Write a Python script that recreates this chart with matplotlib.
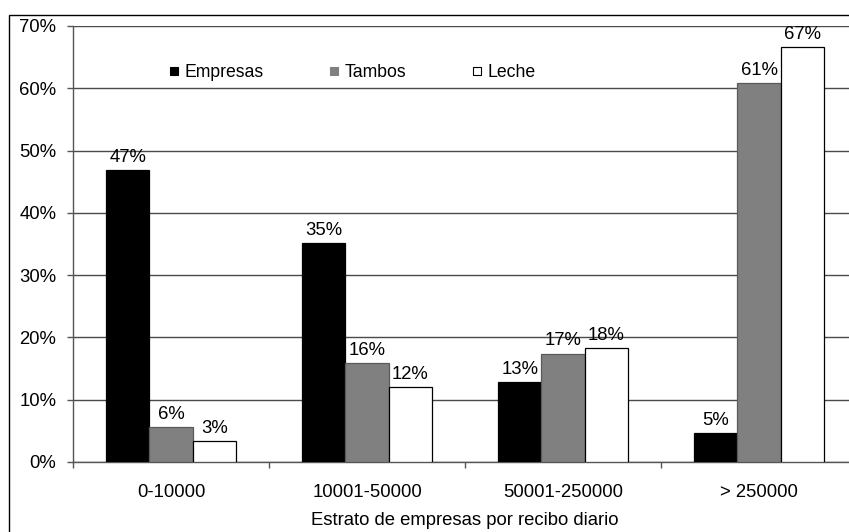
import matplotlib.pyplot as plt
import numpy as np
from matplotlib.lines import Line2D
from matplotlib.patches import Rectangle

plt.rcParams['font.family'] = ['Liberation Sans', 'DejaVu Sans']

# Share of firms, farms and milk by daily intake stratum (%)
estratos = ['0-10000', '10001-50000', '50001-250000', '> 250000']
empresas = [46.9, 35.2, 12.8, 4.7]
tambos = [5.6, 15.9, 17.4, 60.8]
leche = [3.3, 12.0, 18.3, 66.6]

series = [('Empresas', empresas, '#000000', '#000000'),
          ('Tambos', tambos, '#808080', '#5a5a5a'),
          ('Leche', leche, '#ffffff', '#000000')]

fig = plt.figure(figsize=(8.49, 5.32), dpi=100)
ax = fig.add_axes([73 / 849, 70 / 532, 784 / 849, 436 / 532])

x = np.arange(len(estratos))
width = 0.22
fs = 13.3

for i, (name, vals, color, edge) in enumerate(series):
    pos = x + (i - 1) * width
    bars = ax.bar(pos, vals, width, color=color, edgecolor=edge, linewidth=0.9, zorder=3)
    for b, v in zip(bars, vals):
        ax.annotate(f'{v:.0f}%', (b.get_x() + b.get_width() / 2, v),
                    xytext=(0, 3), textcoords='offset points',
                    ha='center', va='bottom', fontsize=fs, zorder=4)

ax.set_xlim(-0.5, 3.5)
ax.set_ylim(0, 70)
ax.set_yticks(range(0, 71, 10))
ax.set_yticklabels([f'{v}%' for v in range(0, 71, 10)], fontsize=fs)
ax.yaxis.grid(True, color='#4a4a4a', linewidth=1)
ax.set_axisbelow(True)

# category labels centred, tick marks on the boundaries
ax.set_xticks(x)
ax.set_xticklabels(estratos, fontsize=fs)
ax.tick_params(axis='x', which='major', length=0, pad=16)
ax.set_xticks(np.arange(-0.5, 4, 1), minor=True)
ax.tick_params(axis='x', which='minor', length=4, width=1, color='#555555')
ax.tick_params(axis='y', length=4, width=1, color='#555555', pad=8)

for s in ['top', 'right']:
    ax.spines[s].set_visible(False)
ax.spines['left'].set_color('#555555')
ax.spines['bottom'].set_color('#555555')
ax.spines['left'].set_linewidth(1)
ax.spines['bottom'].set_linewidth(1)

ax.set_xlabel('Estrato de empresas por recibo diario', fontsize=fs, labelpad=8)

handles = [Line2D([], [], marker='s', linestyle='none', markersize=5.5,
                  markerfacecolor=c, markeredgecolor=e if c != '#808080' else c,
                  markeredgewidth=0.8)
           for _, _, c, e in series]
ax.legend(handles, [n for n, _, _, _ in series], loc='upper left',
          bbox_to_anchor=(0.123, 0.912), ncol=3, frameon=False, fontsize=12.7,
          handlelength=0.5, handletextpad=0.35, columnspacing=3.75,
          borderpad=0, borderaxespad=0)

# outer chart frame
fig.patches.append(Rectangle((9 / 849, -0.2), 1.2, 517 / 532 + 0.2,
                             transform=fig.transFigure, fill=False,
                             edgecolor='#000000', linewidth=1))

fig.savefig('out.png', dpi=100)
